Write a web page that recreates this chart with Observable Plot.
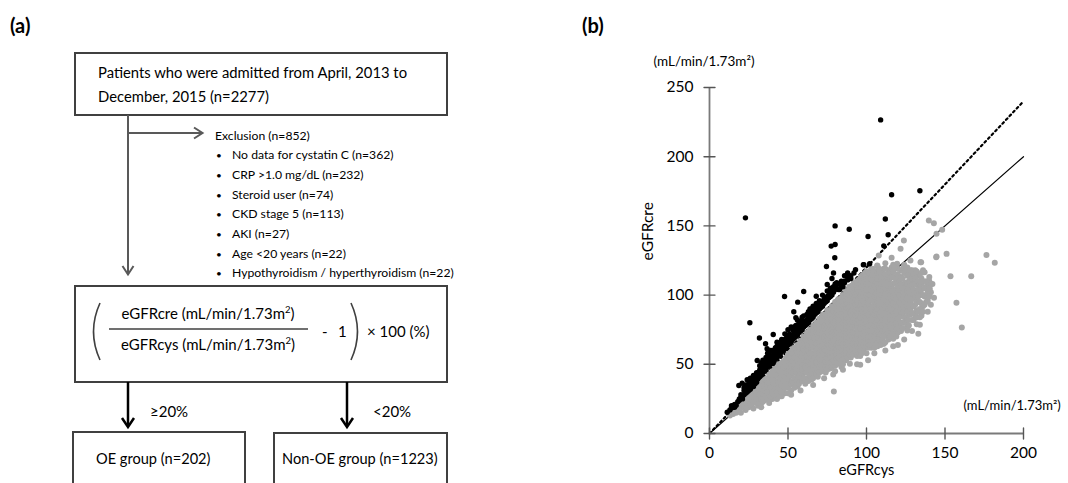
<!DOCTYPE html>
<html>
<head>
<meta charset="utf-8">
<script src="https://cdn.jsdelivr.net/npm/d3@7"></script>
<script src="https://cdn.jsdelivr.net/npm/@observablehq/plot@0.6"></script>
<style>
  html, body { margin: 0; padding: 0; background: #fff; }
  #page { position: relative; width: 1068px; height: 483px; overflow: hidden; font-family: Lato, sans-serif; }
  #flow { position: absolute; left: 0; top: 0; }
  #scatter { position: absolute; left: 580px; top: 0; }
</style>
</head>
<body>
<div id="page">
<svg id="flow" width="1068" height="483" font-family="Lato, sans-serif" fill="#000">
  <text x="10" y="32.5" font-weight="bold" font-size="20">(a)</text>
  <text x="582" y="32.5" font-weight="bold" font-size="20">(b)</text>

  <rect x="75" y="53" width="372" height="62" fill="none" stroke="#404040" stroke-width="2"/>
  <text x="98" y="78" font-size="14.8">Patients who were admitted from April, 2013 to</text>
  <text x="98" y="102" font-size="14.8">December, 2015 (n=2277)</text>

  <g stroke="#595959" stroke-width="2" fill="none">
    <line x1="128" y1="115" x2="128" y2="274"/>
    <polyline points="122.5,266 128,274.5 133.5,266"/>
    <line x1="128" y1="133" x2="202" y2="133"/>
    <polyline points="194,127.5 202.5,133 194,138.5"/>
  </g>

  <g font-size="12.2">
    <text x="215" y="139.5">Exclusion (n=852)</text>
    <text x="216" y="158.5" font-size="10">•</text><text x="232" y="158.5">No data for cystatin C (n=362)</text>
    <text x="216" y="178.5" font-size="10">•</text><text x="232" y="178.5">CRP &gt;1.0 mg/dL (n=232)</text>
    <text x="216" y="198.5" font-size="10">•</text><text x="232" y="198.5">Steroid user (n=74)</text>
    <text x="216" y="218" font-size="10">•</text><text x="232" y="218">CKD stage 5  (n=113)</text>
    <text x="216" y="238" font-size="10">•</text><text x="232" y="238">AKI (n=27)</text>
    <text x="216" y="258" font-size="10">•</text><text x="232" y="258">Age &lt;20 years (n=22)</text>
    <text x="216" y="277" font-size="10">•</text><text x="232" y="277">Hypothyroidism / hyperthyroidism (n=22)</text>
  </g>

  <rect x="75" y="286" width="372" height="96" fill="none" stroke="#404040" stroke-width="2"/>
  <g stroke="#404040" stroke-width="1.6" fill="none">
    <path d="M100,303 Q87,331.5 100,360"/>
    <path d="M351,303 Q364,331.5 351,360"/>
    <line x1="109" y1="329" x2="308" y2="329"/>
  </g>
  <g font-size="15">
    <text x="208" y="318.5" text-anchor="middle">eGFRcre (mL/min/1.73m<tspan dy="-5.5" font-size="9.5">2</tspan><tspan dy="5.5">)</tspan></text>
    <text x="208" y="349.5" text-anchor="middle">eGFRcys (mL/min/1.73m<tspan dy="-5.5" font-size="9.5">2</tspan><tspan dy="5.5">)</tspan></text>
    <text x="322" y="337">-</text>
    <text x="338" y="337">1</text>
    <text x="367" y="337">× 100 (%)</text>
  </g>

  <g stroke="#000" stroke-width="2.5" fill="none">
    <line x1="128" y1="382" x2="128" y2="426"/>
    <polyline points="122,418 128,427 134,418"/>
    <line x1="347" y1="382" x2="347" y2="426"/>
    <polyline points="341,418 347,427 353,418"/>
  </g>
  <g font-size="15">
    <text x="150" y="417">≥20%</text>
    <text x="373" y="417">&lt;20%</text>
  </g>

  <rect x="73" y="432" width="172" height="90" fill="none" stroke="#404040" stroke-width="2"/>
  <rect x="274" y="433" width="173" height="90" fill="none" stroke="#404040" stroke-width="2"/>
  <g font-size="14.6">
    <text x="96" y="463.5">OE group (n=202)</text>
    <text x="282" y="463.5">Non-OE group (n=1223)</text>
  </g>
</svg>
<div id="scatter"></div>
</div>
<script>
// ---- Data ----
const xTicks = [0, 50, 100, 150, 200];
const yTicks = [0, 50, 100, 150, 200, 250];
const xLabel = "eGFRcys";
const yLabel = "eGFRcre";
const unitLabel = "(mL/min/1.73m²)";

// identity line (eGFRcre = eGFRcys) and +20% threshold line
const lineX = [0, 200];
const identityY = [0, 200];
const thresholdY = [0, 240];

// Non-OE group (grey points): [eGFRcys, eGFRcre]
const nonOE = [
[13,13],[14,16],[15,14],[16,18],[17,15],[18,20],[19,17],[20,22],[20,15],[21,19],
[22,24],[23,17],[23,21],[24,26],[25,19],[25,23],[26,28],[27,21],[27,25],[28,30],[28,18],
[29,23],[30,27],[30,33],[31,20],[31,30],[32,25],[32,35],[33,22],[33,29],[34,33],[34,38],[35,26],[35,24],
[36,30],[36,36],[37,40],[37,27],[38,33],[38,43],[39,29],[39,38],[40,25],[40,35],[40,45],[41,31],[41,41],[42,28],[42,47],[43,34],[43,38],[44,30],[44,43],[44,50],[45,36],[45,27],[46,40],[46,47],[47,32],[47,52],[47,44],
[48,29],[48,37],[49,41],[49,48],[49,55],[50,33],[50,45],[51,38],[51,52],[51,58],[52,31],[52,42],[53,48],[53,55],[53,61],[54,36],[54,45],[55,40],[55,51],[55,58],[56,64],[56,34],[57,44],[57,48],[57,55],[58,38],[58,61],[58,67],
[59,42],[59,51],[60,46],[60,57],[60,64],[60,70],[61,36],[61,53],[62,40],[62,48],[62,60],[62,73],[63,44],[63,56],[63,67],[64,50],[64,63],[64,75],[65,39],[65,46],[65,54],[65,70],[66,58],[66,66],[66,78],[67,43],[67,50],[67,62],[67,73],[68,47],[68,55],[68,69],[68,80],
[69,41],[69,59],[69,65],[70,51],[70,62],[70,76],[70,83],[71,45],[71,56],[71,70],[72,48],[72,60],[72,66],[72,79],[72,86],[73,53],[73,73],[74,44],[74,57],[74,64],[74,83],[75,50],[75,69],[75,77],[75,89],[76,61],[76,55],[76,86],[77,47],[77,66],[77,73],[77,80],[78,52],[78,59],[78,92],[79,70],[79,84],[79,63],
[80,45],[80,55],[80,76],[80,88],[80,95],[81,50],[81,67],[81,81],[82,59],[82,73],[82,91],[82,97],[83,53],[83,64],[83,85],[84,48],[84,70],[84,78],[84,94],[85,57],[85,88],[85,100],[86,62],[86,67],[86,75],[86,82],[87,53],[87,92],[87,103],[88,59],[88,71],[88,79],[88,86],[89,65],[89,96],[89,106],
[90,55],[90,75],[90,83],[90,90],[91,61],[91,69],[91,100],[92,57],[92,79],[92,87],[92,94],[92,109],[93,65],[93,73],[93,104],[94,60],[94,84],[94,91],[94,98],[95,69],[95,78],[95,111],[96,56],[96,64],[96,88],[96,95],[96,104],[97,73],[97,82],[97,114],[98,60],[98,68],[98,92],[98,100],[99,78],[99,86],[99,108],
[100,58],[100,64],[100,72],[100,96],[100,117],[101,82],[101,90],[101,103],[102,67],[102,76],[102,111],[103,62],[103,86],[103,96],[103,119],[104,71],[104,80],[104,100],[104,107],[105,66],[105,91],[105,115],[106,75],[106,84],[106,97],[107,63],[107,70],[107,104],[107,121],[108,80],[108,89],[108,111],
[109,68],[109,94],[109,100],[110,74],[110,84],[110,106],[110,117],[111,65],[111,89],[111,78],[112,71],[112,97],[112,111],[113,82],[113,91],[113,103],[114,68],[114,76],[114,86],[114,118],[115,95],[115,108],[116,73],[116,81],[116,100],[117,89],[117,113],[118,77],[118,94],[118,104],[119,70],[119,84],[120,98],[120,110],
[121,79],[121,90],[122,74],[122,104],[122,118],[123,85],[123,95],[124,80],[124,108],[125,91],[125,100],[126,77],[126,114],[127,86],[127,96],[128,104],[129,82],[129,92],[130,99],[130,110],[131,87],[132,79],[133,95],[134,104],[135,85],[136,92],[137,116.6],[137,99],[139,88],
[125,105],[128,112],[132,108],[135,100],[138,106],[140,113],[136,118],[133,114],[129,118],[124,122],[120,119],[117,122],[112,123],[116,127],[138,95],[141,102],[142,108],[131,103],[127,110],[134,90],
[119.5,122.6],[123.6,120],[134.4,123.8],[130.8,115.4],[127.6,110.5],[133.3,107],[134.4,101],[131.2,85.3],[134,78.5],[126,74.4],[117,68.4],[111,64.8],[103.6,63.6],[96,61.2],
[123.8,139.4],[121.7,133.4],[139.7,153.9],[142.9,152],[148.2,147.2],[144.6,144.3],[151,129.8],[144.6,127.9],[134.8,123.8],[176.4,129],[181.7,123.3],[153.5,113.7],[166.7,113.7],[140.3,104.5],[157.3,94.4],[160.7,76.6],
[79.2,30.3],[78.8,42.6],[96,49.6],[89.4,50.4],[107.8,128.6],[106.8,121.4],[144.4,127.4],[128,125],[131,118],[126,120],[140,110],[135,112],[143,98],[141,93],[133,72],[129,74],[124,68],[120,64],[117,63],[112,60],[105,58],[101,53],[94,50],[85,46],[73,40],[66,35],[58,31],[52,28],[46,27],[43,25],[38,22],[33,19],
[15,17],[17,18],[19,21],[21,22],[22,20],[24,22],[24,19],[26,21],[26,25],[27,29],[28,23],[29,27],[29,31],[30,22],[30,30],[31,25],[31,34],[32,28],[32,31],[33,25],[33,32],[33,36],[34,29],[34,23],[35,31],[35,35],[35,39],[36,27],[36,33],[36,39],[37,30],[37,34],[37,37],[38,24],[38,29],[38,37],[38,40],[39,27],[39,33],[39,42],[40,30],[40,39],[40,42],[41,28],[41,36],[41,45],[42,32],[42,38],[42,43],[43,30],[43,42],[43,46],[44,33],[44,37],[44,47],[45,31],[45,40],[45,45],[45,49],[46,30],[46,35],[46,43],[46,51],[47,38],[47,48],[48,33],[48,41],[48,45],[48,53],[49,35],[49,38],[49,44],[49,51],[50,29],[50,40],[50,49],[50,53],[50,57],[51,35],[51,42],[51,46],[51,55],[52,36],[52,45],[52,50],[52,59],[53,38],[53,44],[53,52],[53,58],[54,33],[54,40],[54,50],[54,55],[54,62],[55,37],[55,44],[55,47],[55,54],[55,61],[56,38],[56,42],[56,49],[56,53],[56,58],[56,61],[57,36],[57,41],[57,51],[57,59],[57,63],[58,44],[58,47],[58,52],[58,57],[58,64],
[59,38],[59,46],[59,55],[59,58],[59,62],[59,66],[60,40],[60,50],[60,53],[60,61],[60,67],[61,44],[61,48],[61,58],[61,63],[61,68],[62,44],[62,52],[62,56],[62,64],[62,70],[63,38],[63,48],[63,52],[63,60],[63,63],[63,71],[64,42],[64,46],[64,55],[64,58],[64,67],[64,71],[65,43],[65,50],[65,58],[65,62],[65,66],[65,73],[66,40],[66,48],[66,53],[66,62],[66,70],[66,74],[67,46],[67,55],[67,58],[67,66],[67,69],[67,77],[68,43],[68,51],[68,59],[68,62],[68,65],[68,73],[68,77],[69,45],[69,50],[69,54],[69,62],[69,69],[69,72],[69,79],[70,44],[70,48],[70,55],[70,58],[70,66],[70,69],[70,73],[70,80],[71,50],[71,53],[71,60],[71,63],[71,67],[71,74],[71,77],[71,81],
[72,45],[72,52],[72,56],[72,63],[72,70],[72,73],[72,76],[72,83],[73,47],[73,50],[73,57],[73,61],[73,65],[73,69],[73,77],[73,81],[73,85],[74,48],[74,52],[74,60],[74,67],[74,71],[74,75],[74,79],[74,86],[75,46],[75,54],[75,58],[75,62],[75,65],[75,73],[75,81],[75,85],[76,49],[76,52],[76,58],[76,64],[76,68],[76,71],[76,75],[76,79],[76,83],[76,89],[77,51],[77,55],[77,59],[77,62],[77,69],[77,77],[77,84],[77,88],[78,48],[78,55],[78,63],[78,66],[78,70],[78,74],[78,78],[78,82],[78,86],[78,89],[79,50],[79,53],[79,57],[79,60],[79,67],[79,74],[79,77],[79,80],[79,88],[79,91],
[80,49],[80,52],[80,59],[80,62],[80,65],[80,69],[80,72],[80,79],[80,82],[80,85],[80,91],[81,54],[81,57],[81,61],[81,64],[81,71],[81,74],[81,77],[81,84],[81,87],[81,93],[82,51],[82,55],[82,63],[82,66],[82,69],[82,76],[82,80],[82,83],[82,86],[82,94],[83,57],[83,60],[83,68],[83,72],[83,75],[83,78],[83,81],[83,88],[83,91],[83,96],[84,52],[84,56],[84,62],[84,66],[84,73],[84,82],[84,86],[84,90],[84,98],[85,50],[85,54],[85,60],[85,64],[85,68],[85,72],[85,76],[85,80],[85,84],[85,92],[85,96],[86,55],[86,58],[86,71],[86,79],[86,86],[86,90],[86,94],[86,98],[87,57],[87,61],[87,65],[87,69],[87,73],[87,77],[87,81],[87,85],[87,89],[87,96],[87,100],[88,55],[88,63],[88,67],[88,75],[88,83],[88,90],[88,94],[88,98],[88,102],[89,57],[89,61],[89,69],[89,73],[89,77],[89,81],[89,85],[89,89],[89,92],[89,100],[89,104],
[90,59],[90,63],[90,67],[90,71],[90,79],[90,87],[90,94],[90,98],[90,102],[91,57],[91,65],[91,73],[91,77],[91,81],[91,85],[91,89],[91,92],[91,96],[91,104],[91,107],[92,61],[92,65],[92,69],[92,73],[92,83],[92,91],[92,98],[92,102],[92,105],[93,59],[93,63],[93,69],[93,77],[93,81],[93,85],[93,89],[93,93],[93,96],[93,100],[93,108],[94,56],[94,64],[94,68],[94,72],[94,76],[94,80],[94,88],[94,95],[94,102],[94,106],[94,110],[95,58],[95,62],[95,66],[95,73],[95,82],[95,86],[95,90],[95,94],[95,98],[95,102],[95,106],[96,60],[96,68],[96,72],[96,76],[96,80],[96,84],[96,92],[96,99],[96,108],[96,112],[97,58],[97,62],[97,66],[97,70],[97,78],[97,86],[97,90],[97,94],[97,98],[97,102],[97,106],[97,110],[98,64],[98,72],[98,76],[98,80],[98,84],[98,88],[98,96],[98,104],[98,112],[99,62],[99,66],[99,70],[99,74],[99,82],[99,90],[99,94],[99,98],[99,102],[99,105],[99,112],[99,116],
[100,68],[100,76],[100,80],[100,84],[100,88],[100,92],[100,100],[100,104],[100,108],[100,112],[101,62],[101,66],[101,70],[101,74],[101,78],[101,86],[101,94],[101,98],[101,107],[101,111],[101,115],[102,64],[102,72],[102,80],[102,84],[102,88],[102,92],[102,96],[102,100],[102,104],[102,107],[102,115],[103,66],[103,70],[103,74],[103,78],[103,82],[103,90],[103,100],[103,104],[103,108],[103,112],[103,116],[104,64],[104,68],[104,76],[104,84],[104,88],[104,92],[104,96],[104,103],[104,111],[104,115],[104,119],[105,62],[105,70],[105,74],[105,78],[105,82],[105,86],[105,95],[105,99],[105,103],[105,107],[105,111],[106,64],[106,68],[106,72],[106,80],[106,88],[106,92],[106,101],[106,105],[106,109],[106,113],[106,117],[107,66],[107,74],[107,78],[107,82],[107,86],[107,90],[107,95],[107,99],[107,108],[107,112],[107,116],[108,68],[108,72],[108,76],[108,84],[108,93],[108,97],[108,102],[108,106],[108,115],[108,119],[109,64],[109,72],[109,76],[109,80],[109,84],[109,88],[109,104],[109,108],[109,113],[109,117],
[110,68],[110,78],[110,88],[110,92],[110,96],[110,100],[110,110],[110,114],[111,70],[111,74],[111,82],[111,85],[111,93],[111,97],[111,101],[111,105],[111,109],[111,113],[111,119],[112,66],[112,75],[112,79],[112,83],[112,87],[112,91],[112,101],[112,105],[112,115],[112,119],[113,72],[113,78],[113,86],[113,95],[113,99],[113,107],[113,113],[114,72],[114,80],[114,90],[114,94],[114,98],[114,102],[114,106],[114,110],[114,114],[115,70],[115,78],[115,83],[115,87],[115,91],[115,100],[115,104],[115,112],[115,116],[116,76],[116,85],[116,89],[116,93],[116,97],[116,105],[116,113],[116,120],[117,72],[117,80],[117,84],[117,94],[117,99],[117,103],[117,108],[117,117],[118,82],[118,86],[118,90],[118,98],[118,101],[118,109],[118,113],[118,120],[119,75],[119,80],[119,88],[119,92],[119,97],[119,104],[119,112],[120,73],[120,78],[120,83],[120,87],[120,92],[120,102],[120,106],[120,115],
[121,75],[121,84],[121,95],[121,100],[121,104],[121,110],[122,80],[122,88],[122,93],[122,98],[122,108],[122,113],[123,76],[123,80],[123,90],[123,100],[123,105],[123,112],[124,84],[124,88],[124,93],[124,97],[124,102],[124,116],[125,80],[125,84],[125,95],[125,109],[125,118],[126,82],[126,88],[126,92],[126,97],[126,103],[126,108],[127,78],[127,82],[127,91],[127,100],[127,105],[127,115],[128,86],[128,90],[128,95],[128,100],[128,108],[128,118],[129,87],[129,97],[129,102],[129,107],[129,112],[130,82],[130,92],[130,104],[130,115],[131,93],[131,98],[131,108],[131,112],[132,84],[132,89],[132,95],[132,102],[132,117],[133,88],[133,99],[133,104],[133,110],[134,84],[134,95],[134,108],[135,94],[135,104],[135,108],[135,116],[136,88],[136,100],[136,110],[137,93],[137,105],[138,100],[138,110],[139,103],[139,96],[140,99],[140,106],[141,108]
];

// OE group (black points): [eGFRcys, eGFRcre]
const oe = [
[11.3,15.4],[13,17],[14,18.5],[15,19],[16,21],[17,20.5],[18,23],[18.7,34.7],[19,24],[20,26],[20.8,36.3],[21,25],[22,28],[22,31],[23,29],[24,38.8],[24,30],[25,33],[25.7,80],[26,32],[26,35],[27,34],[28,37],[28,34],[29,36],[29,39],[30,37],[30.4,52.7],[31,40],[31,44],[31.8,69],[32,41],[32,46],[33,42],[33,48],[34,44],[34,50],[35,45],[35.7,64.8],[36,46],[36,52],[36.7,61.2],[37,48],[37,55],[38,49],[38,58],[39,50],[39,53],[40,51],[40,56],[40.6,71.5],[41,52],[41,60],[42,54],[42,58],[43,55],[43,63],[44,56],[44,60],[45,57],[45,66],[46,59],[46,63],[47,60],[47.8,99],[48,61],[48,68],[49,63],[49,66],[50,64],[50,70],[51,65],[51,72],[52,66],[52,69],[53,68],[53,75],[53.7,88],[54,69],[54,77],[55,70],[55,83.6],[56,71],[56.2,94.9],[56,74],[57,73],[57,80],[58,74],[58,78],[59,75],[59,84],[60,77],[60,102.6],[60,81],[61,78],[62,79],[62,86],[63,80],[63,84],[64,82],[64,90],[65,83],[65,87],[66,84],[66,92],[67,86],[68,87],[68,99.2],[68,94],[69,88],[70,90],[70,96],[71,91],[72,92],[72,100],[73,94],[74,95],[74.5,120.7],[75,96],[75,107.7],[75,103],[76,98],[77,99],[77,105],[77.5,135.4],[78,100],[78,112],[79,102],[79,116],[79.8,127],[80,136.6],[80,150],[80,104],[81,105],[82,108],[83,104],[84,110],[85,106],[86,110],[88,113],[89,147.6],[90,112],[93,118.3],[98.3,122],[102,122.6],[101,142.3],[111,135.6],[112,155],[113.8,143.6],[116,172.5],[134,175.4],[109,226.6],[22.9,155.8],[98,122],[88,116],[86,114],
[14,20],[16,19],[19,25],[20,28],[21,27],[22,33],[23,31],[23,35],[24,33],[25,31],[25,36],[26,37],[26,40],[27,36],[27,38],[28,39],[28,42],[29,42],[30,40],[30,44],[31,42],[32,44],[32,49],[33,45],[33,51],[34,47],[34,53],[35,48],[35,50],[36,48],[36,55],[37,51],[37,58],[38,52],[38,55],[39,56],[39,60],[40,53],[40,60],[41,54],[41,57],[42,56],[42,62],[43,58],[43,66],[44,58],[44,63],[45,59],[45,62],[46,61],[46,68],[47,62],[47,66],[48,64],[48,72],[49,62],[49,69],[50,66],[50,75],[51,68],[52,70],[52,77],[53,71],[54,72],[54,74],[55,74],[55,78],[56,76],[56,82],[57,75],[57,77],[58,76],[58,81],[59,77],[59,80],[60,79],[60,85],[61,81],[62,82],[63,82],[63,88],[64,84],[65,85],[65,90],[66,86],[67,88],[67,91],[68,89],[69,91],[70,93],[71,94],[72,95],[73,97],[74,98],[75,99],[76,100],[77,102],[78,104],[79,106],[80,108],[81,109],[82,104],[84,107],[86,109],[88,111],[90,114],[92,116]
];

// ---- Build tables ----
const identity = lineX.map((x, i) => ({x, y: identityY[i]}));
const threshold = lineX.map((x, i) => ({x, y: thresholdY[i]}));
const axisColor = "#7a7a7a";
const tickColor = "#555555";
// straight tick shape for Plot.vector (a plain line of the given length)
const tickLine = {draw(context, l) { context.moveTo(0, 0); context.lineTo(0, -l); }};

const chart = Plot.plot({
  width: 488,
  height: 483,
  marginLeft: 129,
  marginRight: 45,
  marginTop: 87,
  marginBottom: 50,
  x: {domain: [0, 200]},
  y: {domain: [0, 250]},
  style: {fontFamily: "Lato, sans-serif", fontSize: "15px", color: "#000", background: "transparent", overflow: "visible"},
  marks: [
    Plot.line(identity, {x: "x", y: "y", stroke: "#000", strokeWidth: 1.2}),
    Plot.line(threshold, {x: "x", y: "y", stroke: "#000", strokeWidth: 2.2, strokeDasharray: "2,3.2"}),
    Plot.dot(nonOE, {x: d => d[0], y: d => d[1], r: 3, fill: "#a5a5a5", stroke: "none"}),
    Plot.dot(oe, {x: d => d[0], y: d => d[1], r: 2.7, fill: "#000", stroke: "none"}),
    Plot.ruleX([0], {stroke: axisColor, strokeWidth: 1.8}),
    Plot.ruleY([0], {stroke: axisColor, strokeWidth: 1.8}),
    // crossing tick marks (11px long, centred on the axis line)
    Plot.vector(yTicks, {x: 0, y: d => d, length: 11, rotate: 90, anchor: "middle", stroke: tickColor, strokeWidth: 1.4, shape: tickLine}),
    Plot.vector(xTicks, {x: d => d, y: 0, length: 11, rotate: 0, anchor: "middle", stroke: tickColor, strokeWidth: 1.4, shape: tickLine}),
    Plot.axisY(yTicks, {tickSize: 0, tickPadding: 16, fontSize: 15.5, label: null}),
    Plot.axisX(xTicks, {tickSize: 0, tickPadding: 13, fontSize: 15.5, label: null}),
    Plot.text([yLabel], {frameAnchor: "left", rotate: -90, dx: -61, fontSize: 15.5}),
    Plot.text([xLabel], {frameAnchor: "bottom", dy: 41, fontSize: 14.5}),
    Plot.text([unitLabel], {frameAnchor: "top-left", textAnchor: "start", dx: -56, dy: -31, fontSize: 13.5}),
    Plot.text([unitLabel], {frameAnchor: "bottom-right", textAnchor: "start", dx: -60, dy: -24, fontSize: 13})
  ]
});
document.getElementById("scatter").appendChild(chart);
</script>
</body>
</html>
